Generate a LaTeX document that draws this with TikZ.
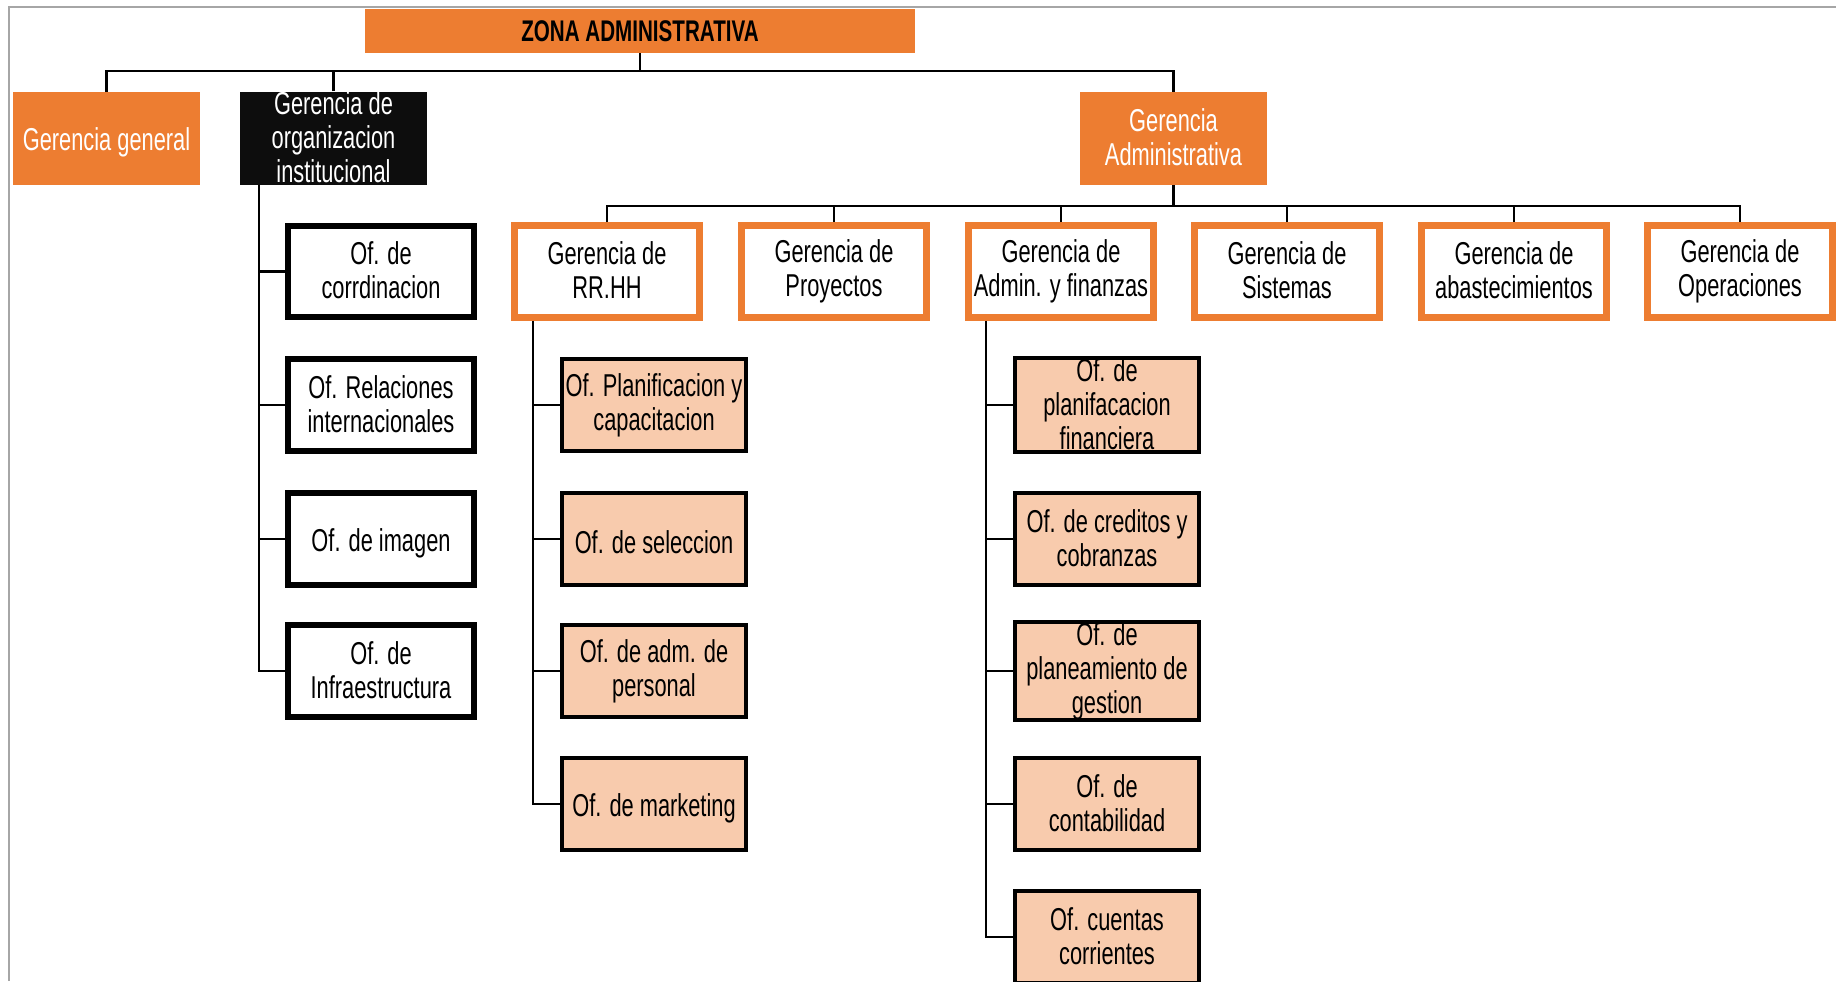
\documentclass[tikz,border=0pt]{standalone}
\usepackage{fontspec}
\setmainfont{Liberation Sans}[FakeStretch=0.69]
\usepackage{tikz}

\definecolor{zonaorange}{HTML}{ED7D31}
\definecolor{ofpeach}{HTML}{F8CBAD}
\definecolor{orgblack}{HTML}{0D0D0D}
\definecolor{framegray}{HTML}{A6A6A6}

\newcommand{\boxstrut}{\rule[-1.5pt]{0pt}{19.3pt}}

\tikzset{
  boxtext/.style={align=center, inner sep=0pt, font=\fontsize{18}{19.3}\selectfont,
    execute at begin node=\boxstrut, execute at end node=\boxstrut},
  zonabox/.style={fill=zonaorange, minimum width=11.02cm, minimum height=0.88cm, inner sep=0pt, font=\bfseries\fontsize{17}{18}\selectfont},
  topbox/.style={boxtext, fill=zonaorange, text=white, minimum width=3.74cm, minimum height=1.86cm},
  orgbox/.style={topbox, fill=orgblack},
  gerbox/.style={boxtext, draw=zonaorange, fill=white, line width=0.14cm, minimum width=3.70cm, minimum height=1.84cm},
  ofbox/.style={boxtext, draw=black, fill=white, line width=0.12cm, minimum width=3.72cm, minimum height=1.84cm},
  subbox/.style={boxtext, draw=black, fill=ofpeach, line width=0.08cm, minimum width=3.68cm, minimum height=1.84cm},
  link/.style={line width=1.3pt}
}

\begin{document}
\begin{tikzpicture}[x=0.02cm, y=-0.02cm]
  \useasboundingbox (0,0) rectangle (1836,981);
  \draw[framegray, line width=1.5pt] (9,981) -- (9,7) -- (1836,7);

  \node[zonabox] (zona) at (640,31) {ZONA ADMINISTRATIVA};
   \node[topbox] (gg) at (106.5,138.5) {Gerencia general};
   \node[orgbox] (goi) at (333.5,138.5) {Gerencia de\\organizacion\\institucional};
   \node[topbox] (gad) at (1173.5,138.5) {Gerencia\\Administrativa};

  \coordinate (bus1) at (640,71);
   \draw[link] (zona.south) -- (bus1);
   \draw[link] (gg.north) |- (bus1) -| (gad.north);
   \draw[link] (goi.north) -- (goi.north |- bus1);

  \node[gerbox] (rrhh) at (607,271.5) {Gerencia de\\RR.HH};
   \node[gerbox] (proy) at (834,271.5) {Gerencia de\\Proyectos};
   \node[gerbox] (fin) at (1061,271.5) {Gerencia de\\Admin. y finanzas};
   \node[gerbox] (sist) at (1287,271.5) {Gerencia de\\Sistemas};
   \node[gerbox] (abas) at (1514,271.5) {Gerencia de\\abastecimientos};
   \node[gerbox] (oper) at (1740,271.5) {Gerencia de\\Operaciones};

  \coordinate (bus2) at (1173.5,206);
   \draw[link] (gad.south) -- (bus2);
   \draw[link] (rrhh.north) |- (bus2) -| (oper.north);
   \foreach \g in {proy,fin,sist,abas}
     \draw[link] (\g.north) -- (\g.north |- bus2);

  \node[ofbox] (coord) at (381,271.5) {Of. de\\corrdinacion};
   \node[ofbox] (rel) at (381,405) {Of. Relaciones\\internacionales};
   \node[ofbox] (ima) at (381,539) {Of. de imagen};
   \node[ofbox] (infra) at (381,671) {Of. de\\Infraestructura};

  \coordinate (otrunk) at (259,185);
   \draw[link] (otrunk) |- (infra.west);
   \foreach \o in {coord,rel,ima}
     \draw[link] (otrunk |- \o.west) -- (\o.west);

  \node[subbox] (plan) at (654,405) {Of. Planificacion y\\capacitacion};
   \node[subbox] (sel) at (654,539) {Of. de seleccion};
   \node[subbox] (adm) at (654,671) {Of. de adm. de\\personal};
   \node[subbox] (mark) at (654,804) {Of. de marketing};

  \coordinate (rtrunk) at (533,0);
   \draw[link] (rrhh.south -| rtrunk) |- (mark.west);
   \foreach \o in {plan,sel,adm}
     \draw[link] (rtrunk |- \o.west) -- (\o.west);

  \node[subbox] (pfin) at (1107,405) {Of. de\\planifacacion\\financiera};
   \node[subbox] (cred) at (1107,539) {Of. de creditos y\\cobranzas};
   \node[subbox] (pges) at (1107,671) {Of. de\\planeamiento de\\gestion};
   \node[subbox] (cont) at (1107,804) {Of. de\\contabilidad};
   \node[subbox] (ctas) at (1107,937) {Of. cuentas\\corrientes};

  \coordinate (ftrunk) at (986,0);
   \draw[link] (fin.south -| ftrunk) |- (ctas.west);
   \foreach \o in {pfin,cred,pges,cont}
     \draw[link] (ftrunk |- \o.west) -- (\o.west);
\end{tikzpicture}
\end{document}
